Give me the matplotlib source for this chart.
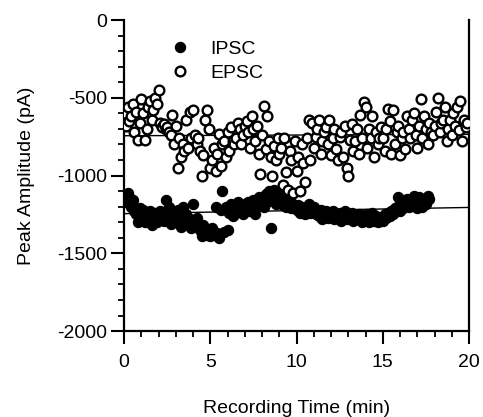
import matplotlib

matplotlib.use("Agg")
import matplotlib.pyplot as plt
from matplotlib.ticker import MultipleLocator

plt.rcParams["font.family"] = ["Liberation Sans", "DejaVu Sans"]
plt.rcParams["axes.unicode_minus"] = False

# EPSC peak amplitudes (pA), one sweep every 0.1 min from 0.0 to 19.9 min
epsc_time = [
    0.0, 0.1, 0.2, 0.3, 0.4, 0.5, 0.6, 0.7, 0.8, 0.9,
    1.0, 1.1, 1.2, 1.3, 1.4, 1.5, 1.6, 1.7, 1.8, 1.9,
    2.0, 2.1, 2.2, 2.3, 2.4, 2.5, 2.6, 2.7, 2.8, 2.9,
    3.0, 3.1, 3.2, 3.3, 3.4, 3.5, 3.6, 3.7, 3.8, 3.9,
    4.0, 4.1, 4.2, 4.3, 4.4, 4.5, 4.6, 4.7, 4.8, 4.9,
    5.0, 5.1, 5.2, 5.3, 5.4, 5.5, 5.6, 5.7, 5.8, 5.9,
    6.0, 6.1, 6.2, 6.3, 6.4, 6.5, 6.6, 6.7, 6.8, 6.9,
    7.0, 7.1, 7.2, 7.3, 7.4, 7.5, 7.6, 7.7, 7.8, 7.9,
    8.0, 8.1, 8.2, 8.3, 8.4, 8.5, 8.6, 8.7, 8.8, 8.9,
    9.0, 9.1, 9.2, 9.3, 9.4, 9.5, 9.6, 9.7, 9.8, 9.9,
    10.0, 10.1, 10.2, 10.3, 10.4, 10.5, 10.6, 10.7, 10.8, 10.9,
    11.0, 11.1, 11.2, 11.3, 11.4, 11.5, 11.6, 11.7, 11.8, 11.9,
    12.0, 12.1, 12.2, 12.3, 12.4, 12.5, 12.6, 12.7, 12.8, 12.9,
    13.0, 13.1, 13.2, 13.3, 13.4, 13.5, 13.6, 13.7, 13.8, 13.9,
    14.0, 14.1, 14.2, 14.3, 14.4, 14.5, 14.6, 14.7, 14.8, 14.9,
    15.0, 15.1, 15.2, 15.3, 15.4, 15.5, 15.6, 15.7, 15.8, 15.9,
    16.0, 16.1, 16.2, 16.3, 16.4, 16.5, 16.6, 16.7, 16.8, 16.9,
    17.0, 17.1, 17.2, 17.3, 17.4, 17.5, 17.6, 17.7, 17.8, 17.9,
    18.0, 18.1, 18.2, 18.3, 18.4, 18.5, 18.6, 18.7, 18.8, 18.9,
    19.0, 19.1, 19.2, 19.3, 19.4, 19.5, 19.6, 19.7, 19.8, 19.9,
]
epsc_amp = [
    -600, -680, -560, -650, -620, -540, -720, -590, -770, -660,
    -510, -600, -770, -700, -560, -520, -640, -580, -500, -540,
    -450, -660, -690, -670, -700, -690, -720, -740, -610, -800,
    -680, -950, -760, -880, -800, -840, -640, -820, -590, -760,
    -580, -740, -800, -760, -840, -1000, -870, -640, -580, -700,
    -950, -900, -820, -970, -860, -730, -940, -800, -780, -880,
    -720, -840, -690, -780, -800, -760, -660, -700, -800, -740,
    -680, -650, -720, -820, -620, -700, -780, -680, -860, -990,
    -740, -550, -830, -620, -780, -880, -1000, -810, -900, -760,
    -860, -820, -1060, -760, -980, -1090, -840, -900, -1110, -780,
    -970, -880, -1100, -800, -920, -1040, -760, -640, -900, -660,
    -820, -750, -700, -640, -860, -780, -720, -690, -800, -640,
    -870, -760, -700, -830, -900, -750, -720, -880, -680, -950,
    -1000, -770, -670, -840, -780, -700, -860, -610, -760, -530,
    -560, -820, -700, -760, -620, -880, -720, -800, -760, -690,
    -760, -840, -700, -570, -650, -860, -580, -800, -720, -680,
    -870, -760, -720, -830, -620, -700, -760, -640, -600, -740,
    -820, -680, -510, -760, -620, -700, -800, -660, -720, -740,
    -680, -590, -500, -720, -660, -640, -560, -780, -700, -640,
    -740, -600, -680, -560, -710, -520, -780, -640, -690, -660,
]

# IPSC peak amplitudes (pA), one sweep every 0.1 min from 0.0 to 17.7 min
ipsc_time = [
    0.0, 0.1, 0.2, 0.3, 0.4, 0.5, 0.6, 0.7, 0.8, 0.9,
    1.0, 1.1, 1.2, 1.3, 1.4, 1.5, 1.6, 1.7, 1.8, 1.9,
    2.0, 2.1, 2.2, 2.3, 2.4, 2.5, 2.6, 2.7, 2.8, 2.9,
    3.0, 3.1, 3.2, 3.3, 3.4, 3.5, 3.6, 3.7, 3.8, 3.9,
    4.0, 4.1, 4.2, 4.3, 4.4, 4.5, 4.6, 4.7, 4.8, 4.9,
    5.0, 5.1, 5.2, 5.3, 5.4, 5.5, 5.6, 5.7, 5.8, 5.9,
    6.0, 6.1, 6.2, 6.3, 6.4, 6.5, 6.6, 6.7, 6.8, 6.9,
    7.0, 7.1, 7.2, 7.3, 7.4, 7.5, 7.6, 7.7, 7.8, 7.9,
    8.0, 8.1, 8.2, 8.3, 8.4, 8.5, 8.6, 8.7, 8.8, 8.9,
    9.0, 9.1, 9.2, 9.3, 9.4, 9.5, 9.6, 9.7, 9.8, 9.9,
    10.0, 10.1, 10.2, 10.3, 10.4, 10.5, 10.6, 10.7, 10.8, 10.9,
    11.0, 11.1, 11.2, 11.3, 11.4, 11.5, 11.6, 11.7, 11.8, 11.9,
    12.0, 12.1, 12.2, 12.3, 12.4, 12.5, 12.6, 12.7, 12.8, 12.9,
    13.0, 13.1, 13.2, 13.3, 13.4, 13.5, 13.6, 13.7, 13.8, 13.9,
    14.0, 14.1, 14.2, 14.3, 14.4, 14.5, 14.6, 14.7, 14.8, 14.9,
    15.0, 15.1, 15.2, 15.3, 15.4, 15.5, 15.6, 15.7, 15.8, 15.9,
    16.0, 16.1, 16.2, 16.3, 16.4, 16.5, 16.6, 16.7, 16.8, 16.9,
    17.0, 17.1, 17.2, 17.3, 17.4, 17.5, 17.6, 17.7,
]
ipsc_amp = [
    -1150, -1170, -1110, -1140, -1200, -1160, -1230, -1250, -1300, -1210,
    -1270, -1220, -1300, -1250, -1280, -1230, -1320, -1260, -1240, -1300,
    -1280, -1230, -1260, -1290, -1160, -1250, -1200, -1310, -1270, -1240,
    -1300, -1220, -1260, -1330, -1200, -1290, -1250, -1310, -1280, -1340,
    -1180, -1300, -1270, -1330, -1350, -1390, -1320, -1370, -1380, -1360,
    -1390, -1340, -1380, -1200, -1370, -1400, -1220, -1100, -1360, -1200,
    -1350, -1240, -1180, -1260, -1200, -1230, -1170, -1220, -1190, -1250,
    -1180, -1210, -1170, -1230, -1200, -1160, -1250, -1190, -1140, -1180,
    -1150, -1200, -1120, -1170, -1100, -1340, -1140, -1090, -1180, -1130,
    -1160, -1120, -1190, -1150, -1200, -1170, -1140, -1210, -1180, -1200,
    -1220, -1190, -1240, -1200, -1230, -1250, -1210, -1180, -1240, -1220,
    -1200, -1250, -1230, -1260, -1220, -1280, -1250, -1230, -1270, -1240,
    -1260, -1230, -1280, -1250, -1270, -1240, -1290, -1260, -1230, -1280,
    -1250, -1270, -1240, -1290, -1260, -1280, -1250, -1270, -1300, -1260,
    -1280, -1250, -1300, -1270, -1240, -1290, -1260, -1300, -1280, -1270,
    -1290, -1250, -1270, -1240, -1260, -1230, -1250, -1210, -1200, -1140,
    -1230, -1170, -1210, -1180, -1150, -1200, -1170, -1190, -1130, -1180,
    -1210, -1140, -1160, -1200, -1150, -1180, -1130, -1150,
]

# fitted lines across the whole recording (end points)
fit_time = [0, 20]
epsc_fit = [-744, -735]
ipsc_fit = [-1245, -1205]

fig = plt.figure(figsize=(4.83, 4.17), dpi=100)
ax = fig.add_axes([0.257, 0.206, 0.714, 0.746])

ax.plot(fit_time, ipsc_fit, color="black", lw=1.0, zorder=1)
ax.plot(fit_time, epsc_fit, color="black", lw=1.0, zorder=1)
ax.plot(ipsc_time, ipsc_amp, "o", ms=7.4, mfc="black", mec="black",
        mew=0.8, label="IPSC", zorder=2)
ax.plot(epsc_time, epsc_amp, "o", ms=7.0, mfc="white", mec="black",
        mew=1.7, label="EPSC", zorder=3)

ax.set_xlim(0, 20)
ax.set_ylim(-2000, 0)
ax.xaxis.set_major_locator(MultipleLocator(5))
ax.xaxis.set_minor_locator(MultipleLocator(1))
ax.yaxis.set_major_locator(MultipleLocator(500))
ax.yaxis.set_minor_locator(MultipleLocator(100))
ax.tick_params(which="major", length=9.5, width=1.5, labelsize=14)
ax.tick_params(axis="x", which="major", pad=7)
ax.tick_params(axis="y", which="major", pad=3)
ax.tick_params(which="minor", length=4, width=1.3)
for side in ["left", "bottom", "right"]:
    ax.spines[side].set_linewidth(1.6)
ax.spines["top"].set_visible(False)

ax.set_xlabel("Recording Time (min)", fontsize=14, labelpad=21)
ax.set_ylabel("Peak Amplitude (pA)", fontsize=14, labelpad=16)

ax.legend(loc="upper left", bbox_to_anchor=(0.355, 0.903),
          bbox_transform=fig.transFigure, frameon=False, fontsize=14,
          handlelength=0.9, handletextpad=1.1, labelspacing=0.3,
          borderpad=0, borderaxespad=0)

fig.savefig("out.png", dpi=100)
